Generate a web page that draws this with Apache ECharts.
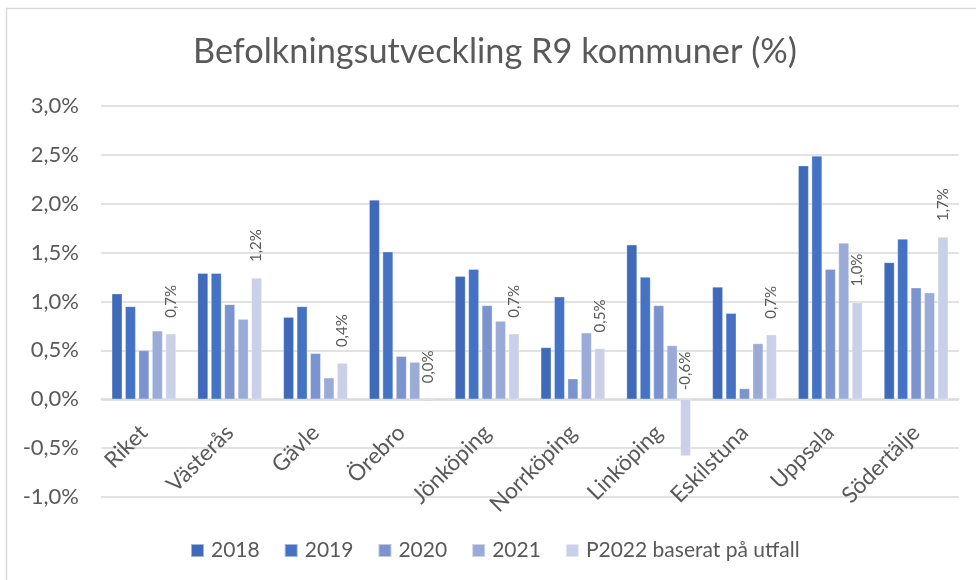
<!DOCTYPE html>
<html>
<head>
<meta charset="utf-8">
<script src="https://cdn.jsdelivr.net/npm/echarts@6/dist/echarts.min.js"></script>
<style>
  html, body { margin: 0; padding: 0; background: #fff; }
  #chart { width: 976px; height: 580px; }
</style>
</head>
<body>
<div id="chart"></div>
<script>
// kommuner (kategorier)
var kommuner = ['Riket', 'Västerås', 'Gävle', 'Örebro', 'Jönköping', 'Norrköping', 'Linköping', 'Eskilstuna', 'Uppsala', 'Södertälje']
// befolkningsutveckling per år (%)
var v2018 = [1.08, 1.29, 0.84, 2.04, 1.26, 0.53, 1.58, 1.15, 2.39, 1.40]
var v2019 = [0.95, 1.29, 0.95, 1.51, 1.33, 1.05, 1.25, 0.88, 2.49, 1.64]
var v2020 = [0.50, 0.97, 0.47, 0.44, 0.96, 0.21, 0.96, 0.11, 1.33, 1.14]
var v2021 = [0.70, 0.82, 0.22, 0.38, 0.80, 0.68, 0.55, 0.57, 1.60, 1.09]
var vP2022 = [0.67, 1.24, 0.37, -0.02, 0.67, 0.52, -0.58, 0.66, 0.99, 1.66]
var serieNamn = ['2018', '2019', '2020', '2021', 'P2022 baserat på utfall']
var farger = ['#3e6ab9', '#4472c4', '#7b93ce', '#9babd8', '#c9d0e8']

var font = 'Lato, "Open Sans", sans-serif'
var textColor = '#595959'

function pct(v) {
  var s = Math.abs(v) < 0.05 ? '0,0' : v.toFixed(1).replace('.', ',')
  return s + '%'
}

var chart = echarts.init(document.getElementById('chart'))

var serier = [v2018, v2019, v2020, v2021, vP2022].map(function (data, i) {
  var s = {
    name: serieNamn[i],
    type: 'bar',
    data: data,
    barWidth: 10.5,
    barGap: '28%',
    itemStyle: { color: farger[i], borderColor: 'rgba(255,255,255,0.5)', borderWidth: 0.6 },
  }
  if (i === 4) {
    // etiketter bara på prognosen
    s.data = data.map(function (v, j) {
      var item = { value: v }
      if (kommuner[j] === 'Linköping') item.label = { distance: 9 }
      return item
    })
    s.label = {
      show: true,
      position: 'top',
      rotate: 90,
      align: 'left',
      verticalAlign: 'middle',
      distance: 16,
      fontFamily: font,
      fontSize: 15,
      color: textColor,
      formatter: function (p) { return pct(p.value) },
    }
  }
  return s
})

var option = {
  animation: false,
  title: {
    text: 'Befolkningsutveckling R9 kommuner (%)',
    left: 188,
    top: 30,
    textStyle: { fontFamily: font, fontSize: 34.3, fontWeight: 'normal', color: textColor },
  },
  graphic: [
    {
      type: 'rect',
      shape: { x: 6.5, y: 8.5, width: 1000, height: 1000 },
      style: { fill: 'none', stroke: '#d9d9d9', lineWidth: 1.5 },
    },
  ],
  legend: {
    left: 190,
    top: 540,
    padding: 0,
    icon: 'rect',
    itemWidth: 13,
    itemHeight: 13,
    itemGap: 24,
    textStyle: { fontFamily: font, fontSize: 21, color: textColor, padding: [0, 0, 0, 2] },
    data: serieNamn,
  },
  grid: { left: 101, right: 17, top: 106, bottom: 83, outerBoundsMode: 'none' },
  xAxis: {
    type: 'category',
    data: kommuner,
    // x-axeln ligger på nollan
    offset: -98,
    axisLine: { onZero: false, lineStyle: { color: '#d9d9d9', width: 1.5 } },
    axisTick: { show: false },
    axisLabel: {
      rotate: 45,
      margin: 30,
      interval: 0,
      fontFamily: font,
      fontSize: 22.5,
      color: textColor,
    },
  },
  yAxis: {
    type: 'value',
    min: -1,
    max: 3,
    interval: 0.5,
    axisLine: { show: false },
    axisTick: { show: false },
    splitLine: { lineStyle: { color: '#d9d9d9', width: 1.5 } },
    axisLabel: {
      margin: 22,
      fontFamily: font,
      fontSize: 22,
      color: textColor,
      formatter: function (v) { return v.toFixed(1).replace('.', ',') + '%' },
    },
  },
  series: serier,
}

chart.setOption(option)
</script>
</body>
</html>
